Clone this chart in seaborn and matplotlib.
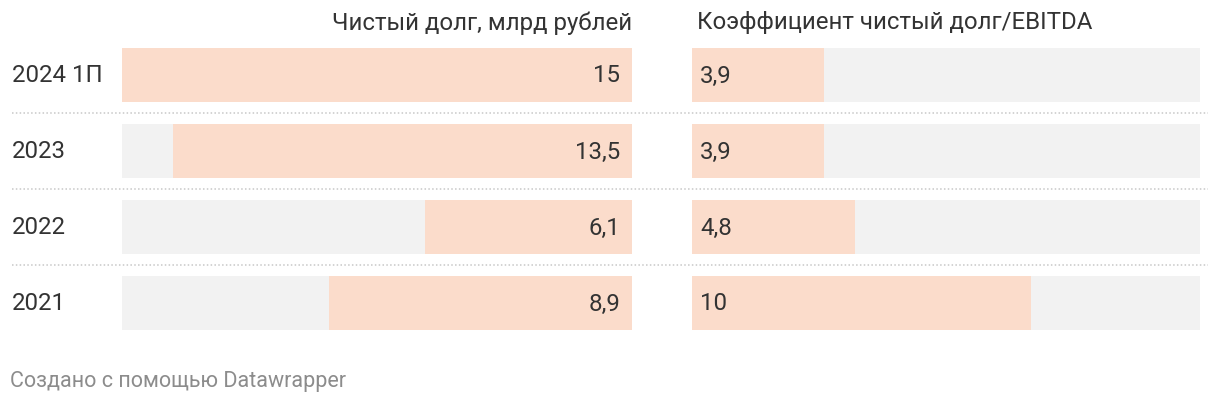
import matplotlib
matplotlib.use("Agg")
import matplotlib.pyplot as plt
import matplotlib.transforms as mtransforms
from matplotlib.lines import Line2D
import seaborn as sns
import pandas as pd

# ---- data ----
years = ["2024 1П", "2023", "2022", "2021"]
net_debt = [15, 13.5, 6.1, 8.9]
debt_ebitda = [3.9, 3.9, 4.8, 10]
title_left = "Чистый долг, млрд рублей"
title_right = "Коэффициент чистый долг/EBITDA"
footer = "Создано с помощью Datawrapper"
scale_max = 15

sns.set_theme(style="white")
plt.rcParams["font.family"] = ["Roboto", "DejaVu Sans"]

BAR = "#fbdccb"
BG = "#f2f2f2"
TXT = "#333333"
FS = 17.3

df = pd.DataFrame({"year": years, "debt": net_debt, "ratio": debt_ebitda,
                   "full": [scale_max] * len(years)})

W, H = 1220, 406
fig = plt.figure(figsize=(W / 100, H / 100), dpi=100)
bottom = 1 - 342 / H
height = 304 / H
axL = fig.add_axes([122 / W, bottom, 510 / W, height])
axR = fig.add_axes([692 / W, bottom, 508 / W, height])

bh = 54 / 76
for ax, col in ((axL, "debt"), (axR, "ratio")):
    sns.barplot(data=df, y="year", x="full", order=years, color=BG,
                width=bh, ax=ax, saturation=1, linewidth=0)
    sns.barplot(data=df, y="year", x=col, order=years, color=BAR,
                width=bh, ax=ax, saturation=1, linewidth=0)
    ax.set_ylim(len(years) - 0.5, -0.5)
    ax.set_xlabel("")
    ax.set_ylabel("")
    ax.set_xticks([])
    ax.set_yticks([])
    for s in ax.spines.values():
        s.set_visible(False)
    ax.set_facecolor("none")

axL.set_xlim(scale_max, 0)
axR.set_xlim(0, scale_max)

def fmt(v):
    return (f"{v:g}").replace(".", ",")

tr = mtransforms.blended_transform_factory(fig.transFigure, axL.transData)
for i, (d, r) in enumerate(zip(net_debt, debt_ebitda)):
    axL.annotate(fmt(d), xy=(0, i), xytext=(-12, 0), textcoords="offset pixels",
                 ha="right", va="center", fontsize=FS, color=TXT)
    axR.annotate(fmt(r), xy=(0, i), xytext=(8, 0), textcoords="offset pixels",
                 ha="left", va="center", fontsize=FS, color=TXT)
    axL.text(12 / W, i, years[i], transform=tr, ha="left", va="center",
             fontsize=FS, color=TXT, clip_on=False)

# separators between rows
for i in range(len(years) - 1):
    axL.add_line(Line2D([12 / W, 1208 / W], [i + 0.5, i + 0.5], transform=tr,
                        color="#c8c8c8", linestyle=(0, (1, 1.5)), linewidth=1.1,
                        clip_on=False))

fig.text(632 / W, 1 - 23 / H, title_left, ha="right", va="center",
         fontsize=FS, color=TXT)
fig.text(697 / W, 1 - 23 / H, title_right, ha="left", va="center",
         fontsize=FS, color=TXT)
fig.text(10 / W, 1 - 382 / H, footer, ha="left", va="center",
         fontsize=15.5, color="#8c8c8c")

fig.savefig("out.png", dpi=100, facecolor="white")
